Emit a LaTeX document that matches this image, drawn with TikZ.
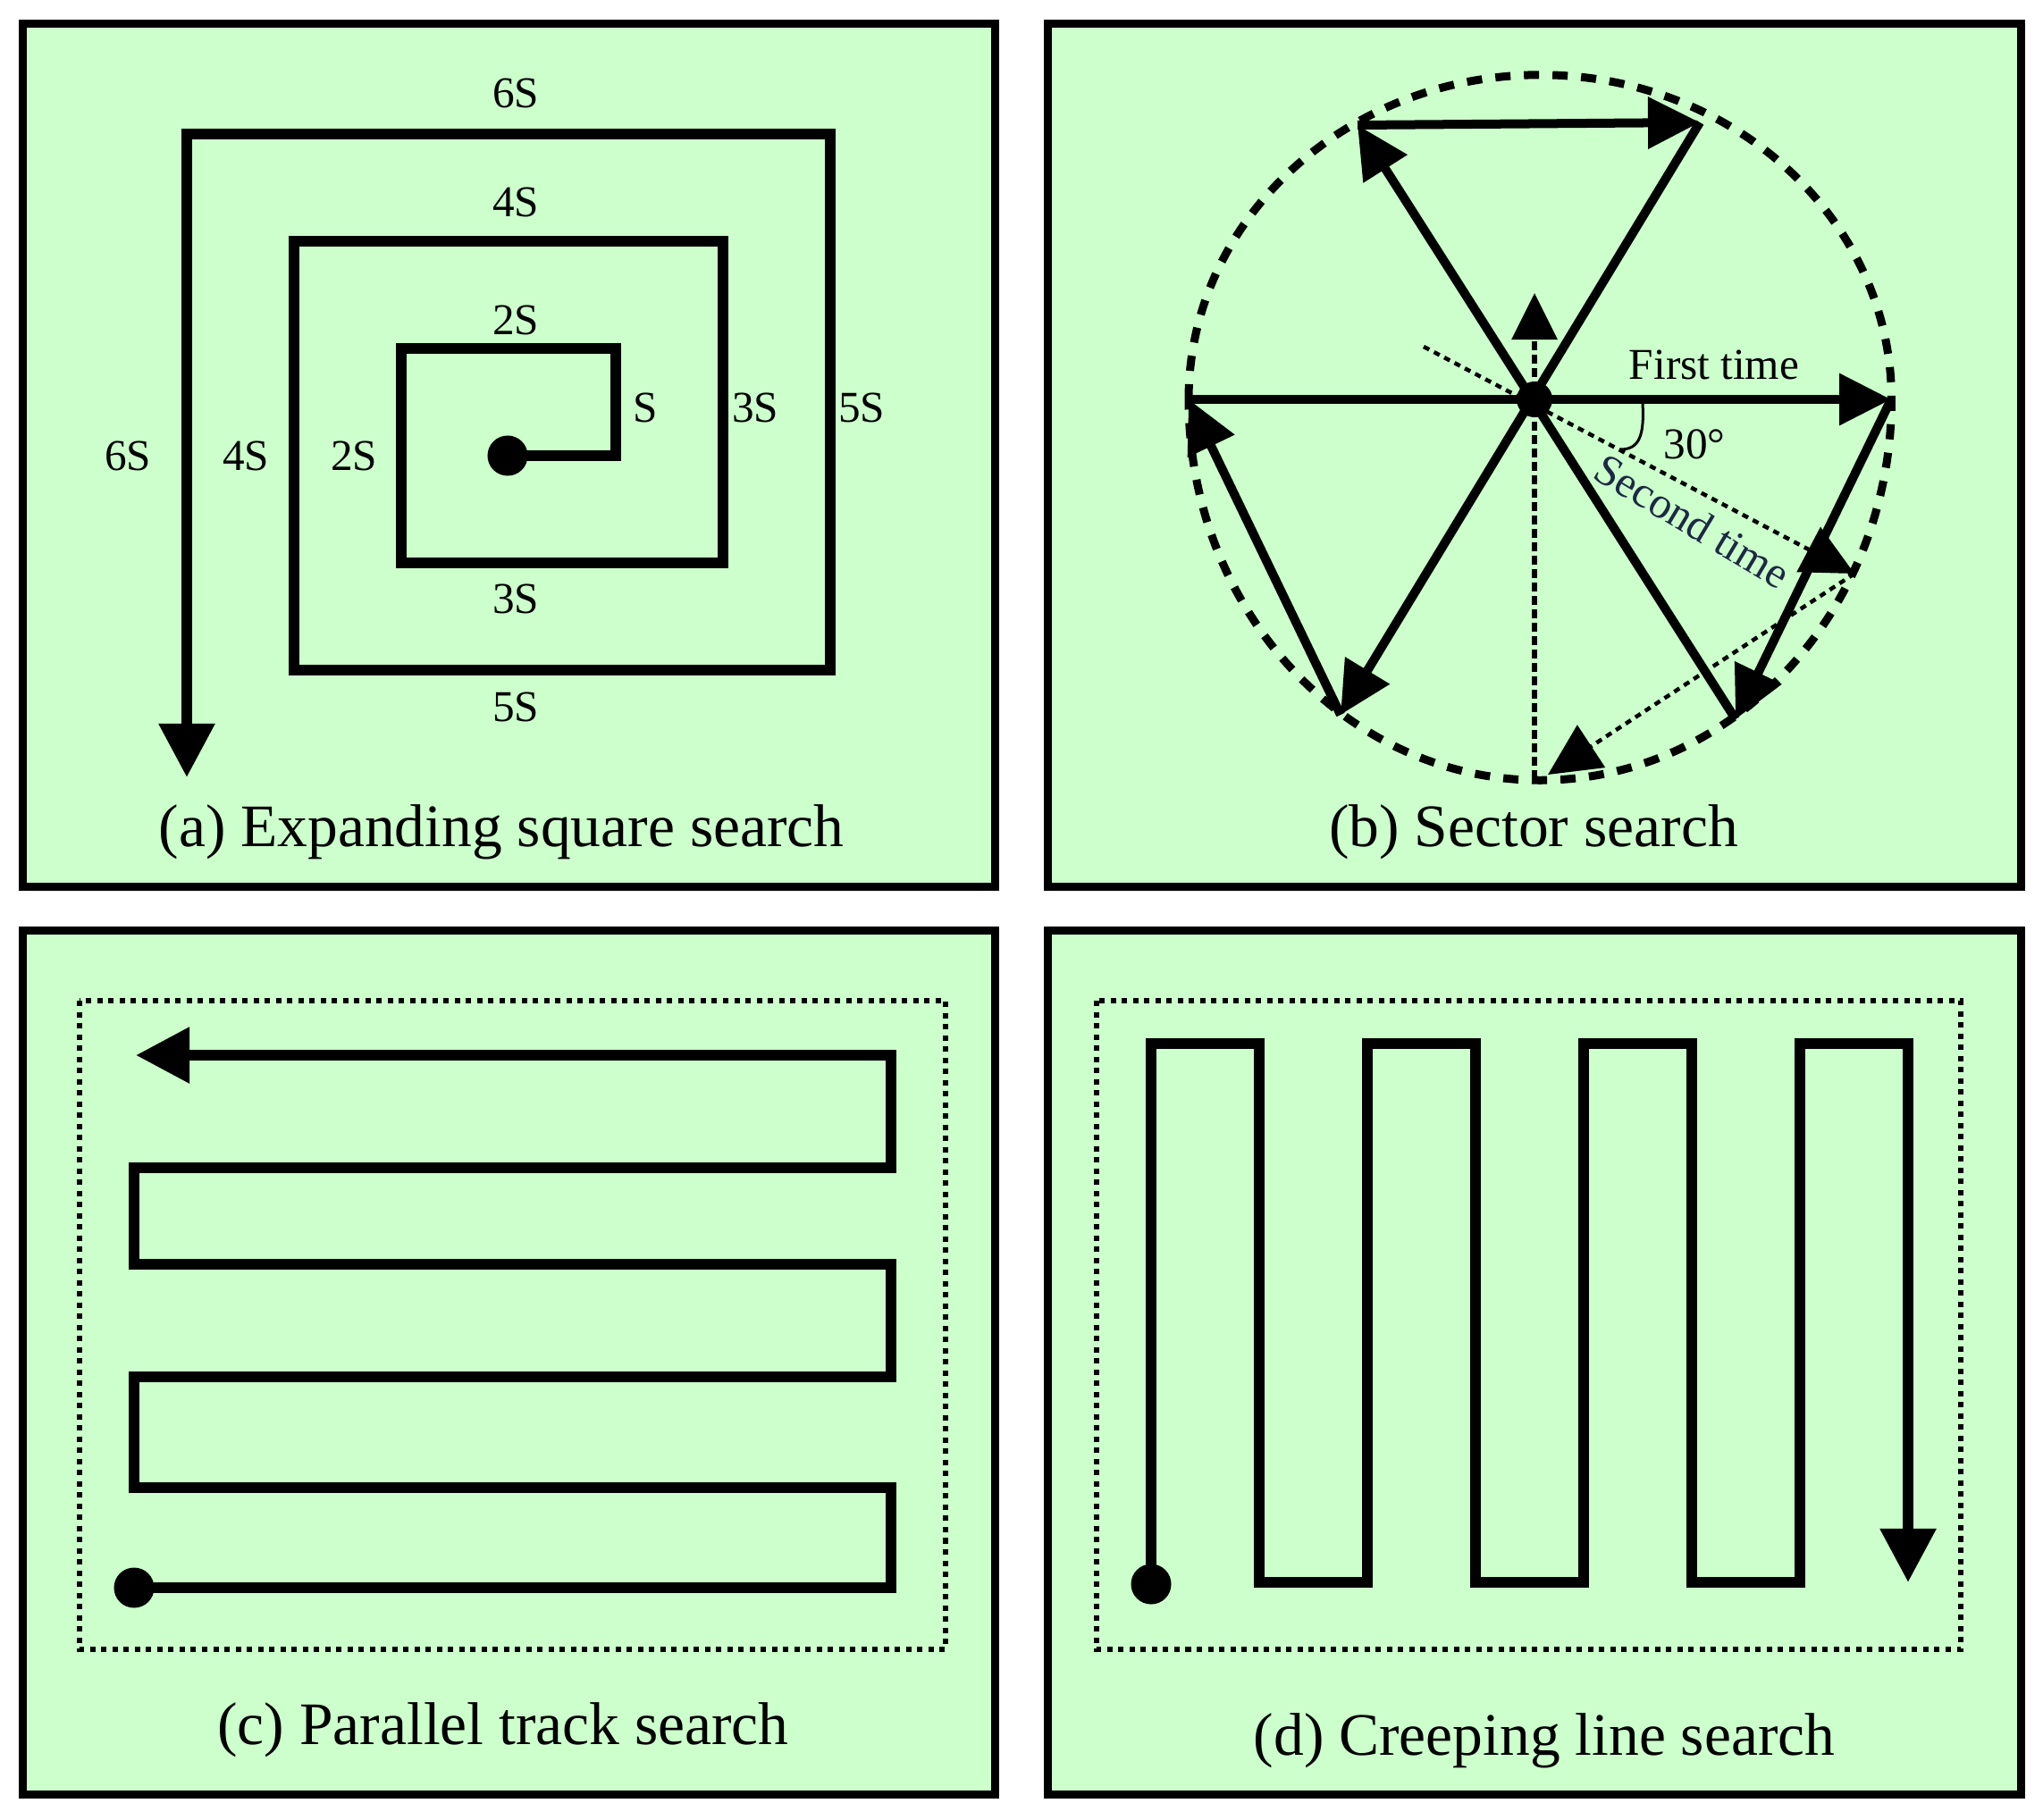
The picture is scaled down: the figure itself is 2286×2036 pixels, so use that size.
\documentclass[tikz,border=0pt]{standalone}
\usepackage{fontspec}
\setmainfont{Liberation Serif}
\usetikzlibrary{arrows.meta}
\definecolor{panelgreen}{RGB}{204,255,204}
\definecolor{secondblue}{RGB}{28,40,68}
\begin{document}
\begin{tikzpicture}[x=0.01cm,y=-0.01cm,
  panel/.style={draw=black,fill=panelgreen,line width=0.09cm},
  track/.style={draw=black,line width=0.12cm,line join=miter},
  sector/.style={draw=black,line width=0.10cm},
  bigtip/.style={-{Triangle[width=0.6cm,length=0.6cm]}},
  sectip/.style={-{Triangle[width=0.56cm,length=0.58cm]}},
  uptip/.style={-{Triangle[width=0.5cm,length=0.52cm]}},
  startdot/.style={circle,fill=black,inner sep=0pt,minimum size=0.45cm},
  hubdot/.style={circle,fill=black,inner sep=0pt,minimum size=0.40cm},
  lbl/.style={font=\fontsize{14pt}{16pt}\selectfont,inner sep=0pt},
  caption/.style={font=\fontsize{19.2pt}{23pt}\selectfont,inner sep=0pt},
  area/.style={draw=black,line width=0.065cm,dash pattern=on 0.06cm off 0.065cm},
  rim/.style={draw=black,line width=0.09cm,dash pattern=on 0.17cm off 0.15cm},
  thindot/.style={draw=black,line width=0.045cm,dash pattern=on 0.07cm off 0.06cm},
  vdash/.style={draw=black,line width=0.065cm,dash pattern=on 0.10cm off 0.05cm},
]
\useasboundingbox (0,0) rectangle (2286,2036);
% ---------- panels ----------
\draw[panel] (25.5,26.5) rectangle (1113.5,992.5);
\draw[panel] (1172.5,26.5) rectangle (2261.5,992.5);
\draw[panel] (25.5,1041.5) rectangle (1113.5,2008.5);
\draw[panel] (1172.5,1041.5) rectangle (2261.5,2008.5);

% ---------- (a) expanding square ----------
\node[startdot] (dotA) at (568,510) {};
\draw[track,bigtip] (dotA.center) -- (689,510) -- (689,390) -- (449,390) -- (449,630)
  -- (809,630) -- (809,270) -- (329,270) -- (329,750) -- (929,750) -- (929,150)
  -- (209,150) -- (209,870);
\node[lbl] (a6t) at (577,104) {6S};
\node[lbl] (a4t) at (577,226) {4S};
\node[lbl] (a2t) at (577,358) {2S};
\node[lbl] (a1r) at (722,456) {S};
\node[lbl] (a3r) at (845,456) {3S};
\node[lbl] (a5r) at (964,456) {5S};
\node[lbl] (a6l) at (143,510) {6S};
\node[lbl] (a4l) at (275,510) {4S};
\node[lbl] (a2l) at (396,510) {2S};
\node[lbl] (a3b) at (577,670) {3S};
\node[lbl] (a5b) at (577,791) {5S};
\node[caption] (capA) at (561,931) {(a) Expanding square search};

% ---------- (b) sector search ----------
\coordinate (C) at (1717,447);
\coordinate (R) at (2116,447);
\coordinate (L) at (1330,447);
\coordinate (UL) at (1519,140);
\coordinate (UR) at (1902,137);
\coordinate (LL) at (1500,800);
\coordinate (LR) at (1942,805);
\coordinate (P) at (2075,642);
\coordinate (Q) at (1593,388);
\coordinate (B) at (1717,872);
\coordinate (BT) at (1732,867);
\coordinate (V) at (1717,328);
\coordinate (arcS) at (1838,452);
\coordinate (arcE) at (1813,503);
\draw[rim] (L) arc[start angle=180,end angle=0,x radius=3.93cm,y radius=3.63cm]
  arc[start angle=0,end angle=-180,x radius=3.93cm,y radius=4.26cm];
\draw[thindot,sectip] (Q) -- (P);
\draw[thindot,sectip] (P) -- (BT);
\draw[vdash,uptip] (B) -- (V);
\draw[sector] (L) -- (C);
\draw[sector,sectip] (C) -- (R);
\draw[sector,sectip] (R) -- (LR);
\draw[sector,sectip] (LR) -- (UL);
\draw[sector,sectip] (UL) -- (UR);
\draw[sector,sectip] (UR) -- (LL);
\draw[sector,sectip] (LL) -- (L);
\node[hubdot] (hub) at (C) {};
\draw[line width=0.03cm] (arcS) .. controls (1840,488) and (1834,503) .. (arcE);
\node[lbl] (first) at (1918,408) {First time};
\node[lbl] (deg) at (1896,497) {30°};
\node[lbl,text=secondblue,rotate=-31] (second) at (1894,583) {Second time};
\node[caption] (capB) at (1716,931) {(b) Sector search};

% ---------- (c) parallel track ----------
\draw[area] (89,1120) rectangle (1058,1846);
\node[startdot] (dotC) at (150,1777) {};
\draw[track,bigtip] (dotC.center) -- (997,1777) -- (997,1665) -- (150,1665) -- (150,1541)
  -- (997,1541) -- (997,1415) -- (150,1415) -- (150,1307) -- (997,1307) -- (997,1181)
  -- (152,1181);
\node[caption] (capC) at (563,1936) {(c) Parallel track search};

% ---------- (d) creeping line ----------
\draw[area] (1227,1120) rectangle (2194,1846);
\node[startdot] (dotD) at (1288,1773) {};
\draw[track,bigtip] (dotD.center) -- (1288,1168) -- (1409,1168) -- (1409,1771)
  -- (1530,1771) -- (1530,1168) -- (1651,1168) -- (1651,1771) -- (1772,1771)
  -- (1772,1168) -- (1893,1168) -- (1893,1771) -- (2014,1771) -- (2014,1168)
  -- (2135,1168) -- (2135,1771);
\node[caption] (capD) at (1728,1948) {(d) Creeping line search};
\end{tikzpicture}
\end{document}
